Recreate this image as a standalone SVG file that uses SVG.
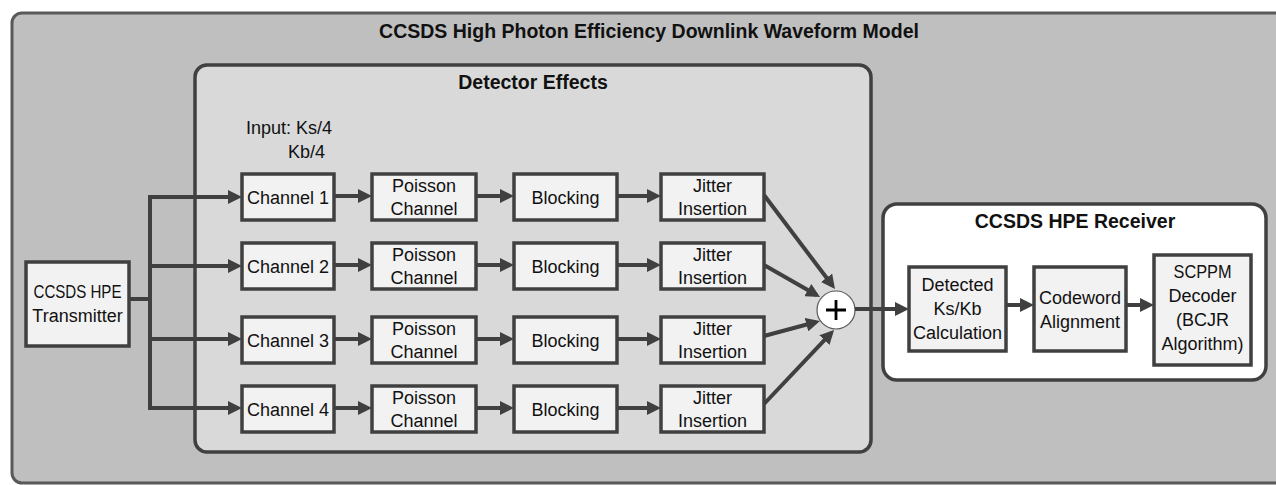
<svg xmlns="http://www.w3.org/2000/svg" width="1276" height="485" viewBox="0 0 1276 485">
<defs>
<marker id="ah" viewBox="0 0 14 14" markerWidth="14" markerHeight="14" refX="10" refY="7" orient="auto" markerUnits="userSpaceOnUse">
<path d="M0,0 L14,7 L0,14 z" fill="#404040"/>
</marker>
</defs>
<style>
text{font-family:"Liberation Sans",Arial,sans-serif;font-size:18px;fill:#111;text-anchor:middle}
.title{font-weight:bold;font-size:19.5px}
.box{fill:#f2f2f2;stroke:#404040;stroke-width:3.5}
.ln{fill:none;stroke:#404040;stroke-width:4}
.arr{fill:none;stroke:#404040;stroke-width:4;marker-end:url(#ah)}
</style>
<rect x="0" y="0" width="1276" height="485" fill="#ffffff"/>
<g id="model">
<rect x="12" y="13" width="1292" height="470" rx="10" fill="#bfbfbf" stroke="#595959" stroke-width="3"/>
<text class="title" x="649" y="38">CCSDS High Photon Efficiency Downlink Waveform Model</text>
</g>
<g id="detector">
<rect x="195" y="65" width="676" height="387" rx="12" fill="#d9d9d9" stroke="#404040" stroke-width="3.5"/>
<text class="title" x="533" y="89">Detector Effects</text>
<text x="246" y="134" style="text-anchor:start">Input: Ks/4</text>
<text x="288" y="158" style="text-anchor:start">Kb/4</text>
</g>
<g id="receiver">
<rect x="883" y="204" width="383" height="176" rx="14" fill="#ffffff" stroke="#404040" stroke-width="3.5"/>
<text class="title" x="1075" y="228">CCSDS HPE Receiver</text>
</g>
<g id="transmitter">
<rect class="box" x="26" y="262" width="103" height="84"/>
<text x="77.5" y="298" textLength="88" lengthAdjust="spacingAndGlyphs">CCSDS HPE</text>
<text x="77.5" y="322">Transmitter</text>
</g>
<g id="channel1"><rect class="box" x="242" y="174" width="92" height="46"/><text x="288" y="204">Channel 1</text></g>
<g id="channel2"><rect class="box" x="242" y="243" width="92" height="46"/><text x="288" y="273">Channel 2</text></g>
<g id="channel3"><rect class="box" x="242" y="317" width="92" height="46"/><text x="288" y="347">Channel 3</text></g>
<g id="channel4"><rect class="box" x="242" y="386" width="92" height="46"/><text x="288" y="416">Channel 4</text></g>
<g id="poisson1"><rect class="box" x="372" y="174" width="104" height="46"/><text x="424" y="192">Poisson</text><text x="424" y="215">Channel</text></g>
<g id="poisson2"><rect class="box" x="372" y="243" width="104" height="46"/><text x="424" y="261">Poisson</text><text x="424" y="284">Channel</text></g>
<g id="poisson3"><rect class="box" x="372" y="317" width="104" height="46"/><text x="424" y="335">Poisson</text><text x="424" y="358">Channel</text></g>
<g id="poisson4"><rect class="box" x="372" y="386" width="104" height="46"/><text x="424" y="404">Poisson</text><text x="424" y="427">Channel</text></g>
<g id="blocking1"><rect class="box" x="514" y="174" width="103" height="46"/><text x="565.5" y="204">Blocking</text></g>
<g id="blocking2"><rect class="box" x="514" y="243" width="103" height="46"/><text x="565.5" y="273">Blocking</text></g>
<g id="blocking3"><rect class="box" x="514" y="317" width="103" height="46"/><text x="565.5" y="347">Blocking</text></g>
<g id="blocking4"><rect class="box" x="514" y="386" width="103" height="46"/><text x="565.5" y="416">Blocking</text></g>
<g id="jitter1"><rect class="box" x="661" y="174" width="103" height="46"/><text x="712.5" y="192">Jitter</text><text x="712.5" y="215">Insertion</text></g>
<g id="jitter2"><rect class="box" x="661" y="243" width="103" height="46"/><text x="712.5" y="261">Jitter</text><text x="712.5" y="284">Insertion</text></g>
<g id="jitter3"><rect class="box" x="661" y="317" width="103" height="46"/><text x="712.5" y="335">Jitter</text><text x="712.5" y="358">Insertion</text></g>
<g id="jitter4"><rect class="box" x="661" y="386" width="103" height="46"/><text x="712.5" y="404">Jitter</text><text x="712.5" y="427">Insertion</text></g>
<g id="sum">
<circle cx="836" cy="310" r="19" fill="#ffffff" stroke="#595959" stroke-width="1.2"/>
<path d="M826,310 H846 M836,300 V320" stroke="#000" stroke-width="2.8" fill="none"/>
</g>
<g id="detected"><rect class="box" x="909" y="267" width="97" height="84"/><text x="957.5" y="291">Detected</text><text x="957.5" y="315">Ks/Kb</text><text x="957.5" y="339">Calculation</text></g>
<g id="codeword"><rect class="box" x="1034" y="267" width="92" height="84"/><text x="1080" y="304">Codeword</text><text x="1080" y="328">Alignment</text></g>
<g id="scppm"><rect class="box" x="1154" y="255" width="97" height="110"/><text x="1202.5" y="278" textLength="58" lengthAdjust="spacingAndGlyphs">SCPPM</text><text x="1202.5" y="302">Decoder</text><text x="1202.5" y="326">(BCJR</text><text x="1202.5" y="350">Algorithm)</text></g>
<g id="connectors">
<path class="ln" d="M129,299 H150 M150,195 V410"/>
<path class="arr" d="M148,197 H238"/>
<path class="arr" d="M148,266 H238"/>
<path class="arr" d="M148,339 H238"/>
<path class="arr" d="M148,408 H238"/>
<path class="arr" d="M334,196 H368"/>
<path class="arr" d="M334,265 H368"/>
<path class="arr" d="M334,339 H368"/>
<path class="arr" d="M334,408 H368"/>
<path class="arr" d="M476,196 H510"/>
<path class="arr" d="M476,265 H510"/>
<path class="arr" d="M476,339 H510"/>
<path class="arr" d="M476,408 H510"/>
<path class="arr" d="M617,196 H657"/>
<path class="arr" d="M617,265 H657"/>
<path class="arr" d="M617,339 H657"/>
<path class="arr" d="M617,408 H657"/>
<path class="arr" d="M764,195 L832.6,285.8"/>
<path class="arr" d="M764,265 L816.5,295"/>
<path class="arr" d="M764,336 L816.1,322"/>
<path class="arr" d="M764,404 L831.3,332.9"/>
<path class="arr" d="M855,309 H905"/>
<path class="arr" d="M1006,305 H1030"/>
<path class="arr" d="M1126,305 H1150"/>
</g>
</svg>
